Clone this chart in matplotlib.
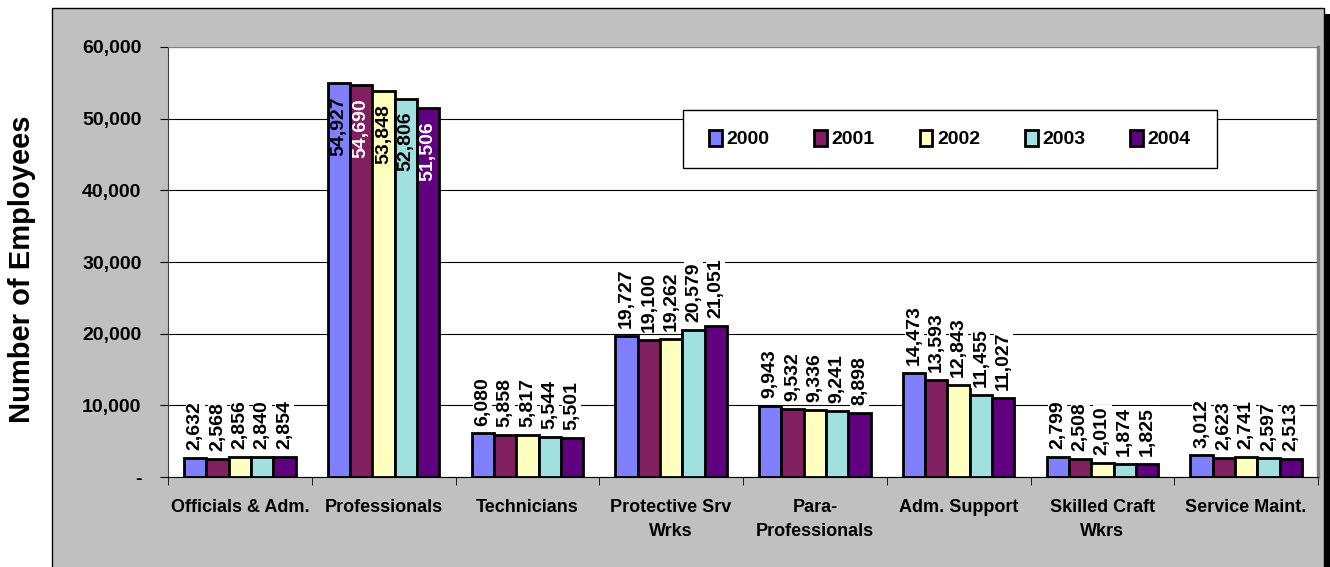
import matplotlib
matplotlib.use("Agg")
import matplotlib.pyplot as plt
from matplotlib.patches import Rectangle
from matplotlib.ticker import FuncFormatter
import numpy as np

plt.rcParams['font.family'] = ['Liberation Sans', 'DejaVu Sans']

categories = ["Officials & Adm.", "Professionals", "Technicians", "Protective Srv\nWrks",
              "Para-\nProfessionals", "Adm. Support", "Skilled Craft\nWkrs", "Service Maint."]
years = ["2000", "2001", "2002", "2003", "2004"]
v2000 = [2632, 54927, 6080, 19727, 9943, 14473, 2799, 3012]
v2001 = [2568, 54690, 5858, 19100, 9532, 13593, 2508, 2623]
v2002 = [2856, 53848, 5817, 19262, 9336, 12843, 2010, 2741]
v2003 = [2840, 52806, 5544, 20579, 9241, 11455, 1874, 2597]
v2004 = [2854, 51506, 5501, 21051, 8898, 11027, 1825, 2513]
series = [v2000, v2001, v2002, v2003, v2004]
colors = ["#8080ff", "#802060", "#ffffc0", "#a0e0e0", "#600080"]
inside_text = ["black", "white", "black", "black", "white"]

W, H = 1330, 567
fig = plt.figure(figsize=(W / 100, H / 100), dpi=100, facecolor="white")

# grey chart frame with a black drop shadow on the right
fig.patches.append(Rectangle((1324 / W, 0), 6 / W, 553 / H, transform=fig.transFigure,
                             facecolor="black", edgecolor="none", zorder=-2))
fig.patches.append(Rectangle((52 / W, -0.01), 1272 / W, 559 / H + 0.01, transform=fig.transFigure,
                             facecolor="#c0c0c0", edgecolor="black", lw=1, zorder=-1))

ax = fig.add_axes([168 / W, 1 - 477 / H, 1150 / W, 430 / H])
ax.set_facecolor("white")

x = np.arange(len(categories))
bw = 0.155
lab_kw = dict(rotation=90, ha="center", fontsize=14, fontweight="bold")
for i, (vals, col) in enumerate(zip(series, colors)):
    xs = x + (i - 2) * bw
    ax.bar(xs, vals, bw, color=col, edgecolor="black", lw=2, label=years[i], zorder=3)
    for j, (xx, v) in enumerate(zip(xs, vals)):
        lab = f"{v:,}"
        if j == 1:
            ax.text(xx, v - 1800, lab, va="top", color=inside_text[i], zorder=4.5, **lab_kw)
        else:
            # white box first (knocks out the gridline), text drawn on top of all boxes
            ax.text(xx, v + 1100, lab, va="bottom", color="none", zorder=4, **lab_kw,
                    bbox=dict(boxstyle="square,pad=0.05", facecolor="white", edgecolor="none"))
            ax.text(xx, v + 1100, lab, va="bottom", color="black", zorder=4.5, **lab_kw)

ax.set_xlim(-0.5, len(categories) - 0.5)
ax.set_ylim(0, 60000)
ax.set_yticks(np.arange(0, 60001, 10000))
ax.yaxis.set_major_formatter(FuncFormatter(lambda v, p: "-" if v == 0 else f"{int(v):,}"))
ax.grid(axis="y", color="black", lw=0.8, zorder=1)
ax.set_xticks(x)
ax.set_xticklabels(categories, fontsize=13, fontweight="bold", linespacing=1.5)
ax.set_xticks(np.arange(-0.5, len(categories)), minor=True)
ax.tick_params(axis="x", which="major", length=0, pad=16)
ax.tick_params(axis="x", which="minor", length=6, color="black")
ax.tick_params(axis="y", length=6, pad=13, labelsize=14)
for t in ax.get_yticklabels():
    t.set_fontweight("bold")
ax.spines["left"].set_color("#404040")
ax.spines["top"].set_color("#808080")
ax.spines["right"].set_color("#808080")
ax.spines["right"].set_linewidth(2.5)
ax.spines["bottom"].set_color("black")

fig.text(22 / W, 1 - 269 / H, "Number of Employees", rotation=90, ha="center", va="center",
         fontsize=21, fontweight="bold")

# legend box drawn by hand so its size matches the original
ax.add_patch(Rectangle((683 / W, 1 - 168 / H), 534 / W, 58 / H, transform=fig.transFigure,
                       facecolor="white", edgecolor="black", lw=1, zorder=5))
leg = ax.legend(loc="center", bbox_to_anchor=((683 + 1217) / 2 / W, 1 - 139 / H),
                bbox_transform=fig.transFigure, ncol=5, frameon=False,
                handlelength=0.65, handleheight=0.9, columnspacing=2.3, handletextpad=0.25,
                prop={"weight": "bold", "size": 14})
leg.set_zorder(6)

fig.savefig("out.png", dpi=100, facecolor="white")
